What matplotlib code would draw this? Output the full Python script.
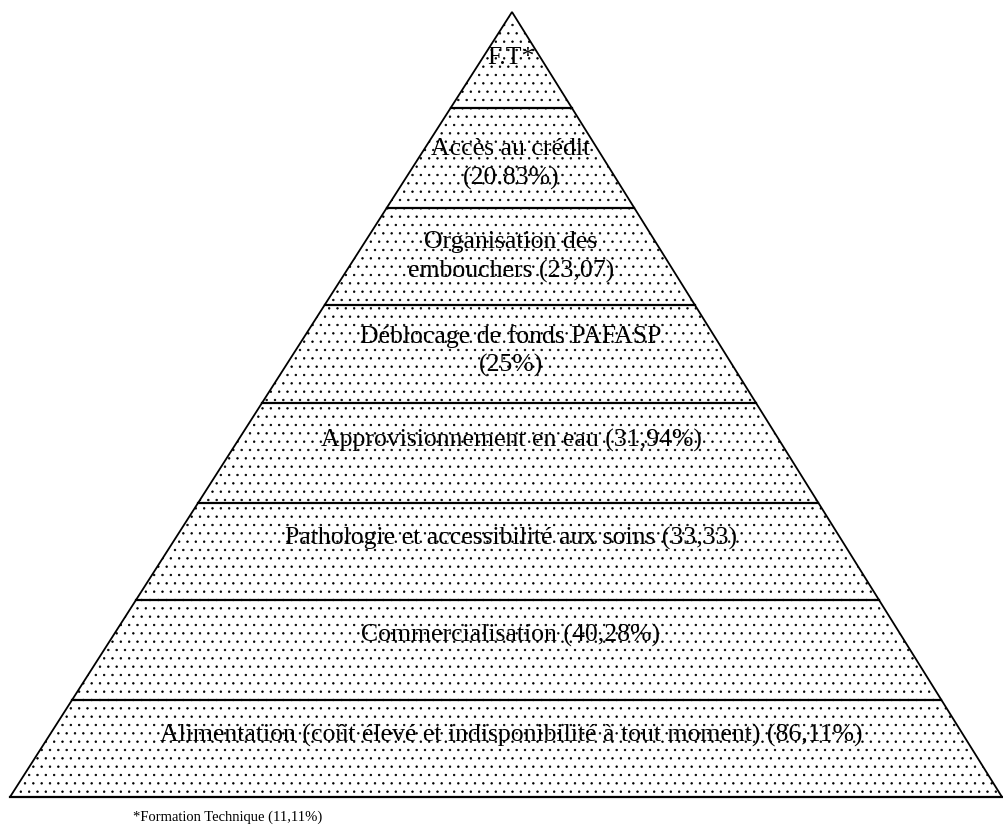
import matplotlib.pyplot as plt
from matplotlib.patches import Polygon

plt.rcParams["font.family"] = ["Liberation Serif", "DejaVu Serif"]
plt.rcParams["hatch.linewidth"] = 0.5
plt.rcParams["hatch.color"] = "#444444"

# pyramid levels, top to bottom
labels = [
    "F.T*",
    "Accès au crédit\n(20.83%)",
    "Organisation des\nembouchers (23,07)",
    "Déblocage de fonds PAFASP\n(25%)",
    "Approvisionnement en eau (31,94%)",
    "Pathologie et accessibilité aux soins (33,33)",
    "Commercialisation (40,28%)",
    "Alimentation (coût élevé et indisponibilité à tout moment) (86,11%)",
]
footnote = "*Formation Technique (11,11%)"

# layout (pixel rows): level boundaries from apex to base, and label centres
bounds = [12, 108, 208, 305, 403, 503, 600, 700, 797]
label_y = [58, 164, 257, 351, 440, 538, 635, 735]

apex_x = 512
base_l, base_r = 10, 1002

fig = plt.figure(figsize=(10.04, 8.32), dpi=100)
ax = fig.add_axes([0, 0, 1, 1])
ax.set_xlim(0, 1004)
ax.set_ylim(832, 0)
ax.axis("off")


def edge_x(y):
    t = (y - bounds[0]) / (bounds[-1] - bounds[0])
    return apex_x + (base_l - apex_x) * t, apex_x + (base_r - apex_x) * t


tri = Polygon([(apex_x, bounds[0]), (base_l, bounds[-1]), (base_r, bounds[-1])],
              closed=True, facecolor="white", edgecolor="black",
              hatch="..", linewidth=1.3)
ax.add_patch(tri)

for y in bounds[1:]:
    x0, x1 = edge_x(y)
    ax.plot([x0, x1], [y, y], color="black", lw=1.6)

for lab, yc in zip(labels, label_y):
    ax.text(511, yc, lab, ha="center", va="center", fontsize=18.5,
            linespacing=1.35)

ax.text(133, 817, footnote, ha="left", va="center", fontsize=10.5)

fig.savefig("out.png", dpi=100)
